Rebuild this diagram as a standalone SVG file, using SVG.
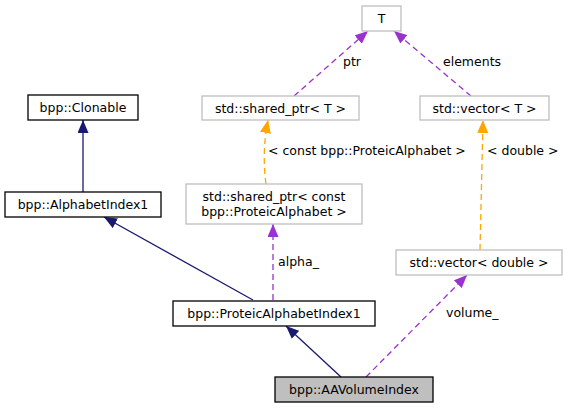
<svg xmlns="http://www.w3.org/2000/svg" width="567" height="408" viewBox="0 0 567 408">
<style>
text{font-family:"DejaVu Sans",sans-serif;font-size:12.5px;fill:#000}
.n text{text-anchor:middle}
.b{fill:#fff;stroke:#000;stroke-width:1.3}
.g{fill:#fff;stroke:#bfbfbf;stroke-width:1.3}
.cur{fill:#bfbfbf;stroke:#000;stroke-width:1.3}
.inh{stroke:#191970;stroke-width:1.3;fill:none}
.use{stroke:#9a32cd;stroke-width:1.3;fill:none;stroke-dasharray:6,4}
.tpl{stroke:#ffa500;stroke-width:1.3;fill:none;stroke-dasharray:6,4}
</style>
<defs>
<marker id="aN" markerUnits="userSpaceOnUse" markerWidth="14" markerHeight="11" refX="13" refY="5.5" orient="auto"><path d="M0,0 L13,5.5 L0,11 z" fill="#191970"/></marker>
<marker id="aP" markerUnits="userSpaceOnUse" markerWidth="14" markerHeight="11" refX="13" refY="5.5" orient="auto"><path d="M0,0 L13,5.5 L0,11 z" fill="#9a32cd"/></marker>
<marker id="aO" markerUnits="userSpaceOnUse" markerWidth="14" markerHeight="11" refX="13" refY="5.5" orient="auto"><path d="M0,0 L13,5.5 L0,11 z" fill="#ffa500"/></marker>
</defs>
<g id="edges">
<line class="inh" x1="83" y1="192" x2="83" y2="120" marker-end="url(#aN)"/>
<line class="inh" x1="253" y1="300" x2="104" y2="217" marker-end="url(#aN)"/>
<line class="inh" x1="341" y1="377" x2="286" y2="326" marker-end="url(#aN)"/>
<line class="use" x1="273" y1="300" x2="273" y2="224" marker-end="url(#aP)"/>
<line class="use" x1="366" y1="377" x2="467" y2="275" marker-end="url(#aP)"/>
<line class="use" x1="294" y1="96" x2="368" y2="31" marker-end="url(#aP)"/>
<line class="use" x1="471" y1="96" x2="394" y2="31" marker-end="url(#aP)"/>
<path class="tpl" d="M266,184 C263,162 264,140 268,120" marker-end="url(#aO)"/>
<line class="tpl" x1="480" y1="250" x2="483" y2="120" marker-end="url(#aO)"/>
<text x="278" y="266">alpha_</text>
<text x="446" y="317">volume_</text>
<text x="343" y="66">ptr</text>
<text x="443" y="66">elements</text>
<text x="268" y="155">&lt; const bpp::ProteicAlphabet &gt;</text>
<text x="487" y="155">&lt; double &gt;</text>
</g>
<g id="T" class="n"><rect class="g" x="362" y="6" width="39" height="25"/><text x="381.5" y="23">T</text></g>
<g id="shared_ptr_T" class="n"><rect class="g" x="202" y="96" width="157" height="24"/><text x="280.5" y="112.5">std::shared_ptr&lt; T &gt;</text></g>
<g id="vector_T" class="n"><rect class="g" x="420" y="96" width="129" height="24"/><text x="484.5" y="112.5">std::vector&lt; T &gt;</text></g>
<g id="Clonable" class="n"><rect class="b" x="28" y="95" width="110" height="25"/><text x="83" y="112">bpp::Clonable</text></g>
<g id="AlphabetIndex1" class="n"><rect class="b" x="5" y="192" width="156" height="25"/><text x="83" y="209">bpp::AlphabetIndex1</text></g>
<g id="shared_ptr_const" class="n"><rect class="g" x="186" y="184" width="176" height="40"/><text x="274" y="201">std::shared_ptr&lt; const</text><text x="274" y="216">bpp::ProteicAlphabet &gt;</text></g>
<g id="vector_double" class="n"><rect class="g" x="396" y="250" width="166" height="25"/><text x="479" y="267">std::vector&lt; double &gt;</text></g>
<g id="ProteicAlphabetIndex1" class="n"><rect class="b" x="173" y="301" width="202" height="25"/><text x="274" y="318">bpp::ProteicAlphabetIndex1</text></g>
<g id="AAVolumeIndex" class="n"><rect class="cur" x="275" y="377" width="158" height="25"/><text x="354" y="394">bpp::AAVolumeIndex</text></g>
</svg>
